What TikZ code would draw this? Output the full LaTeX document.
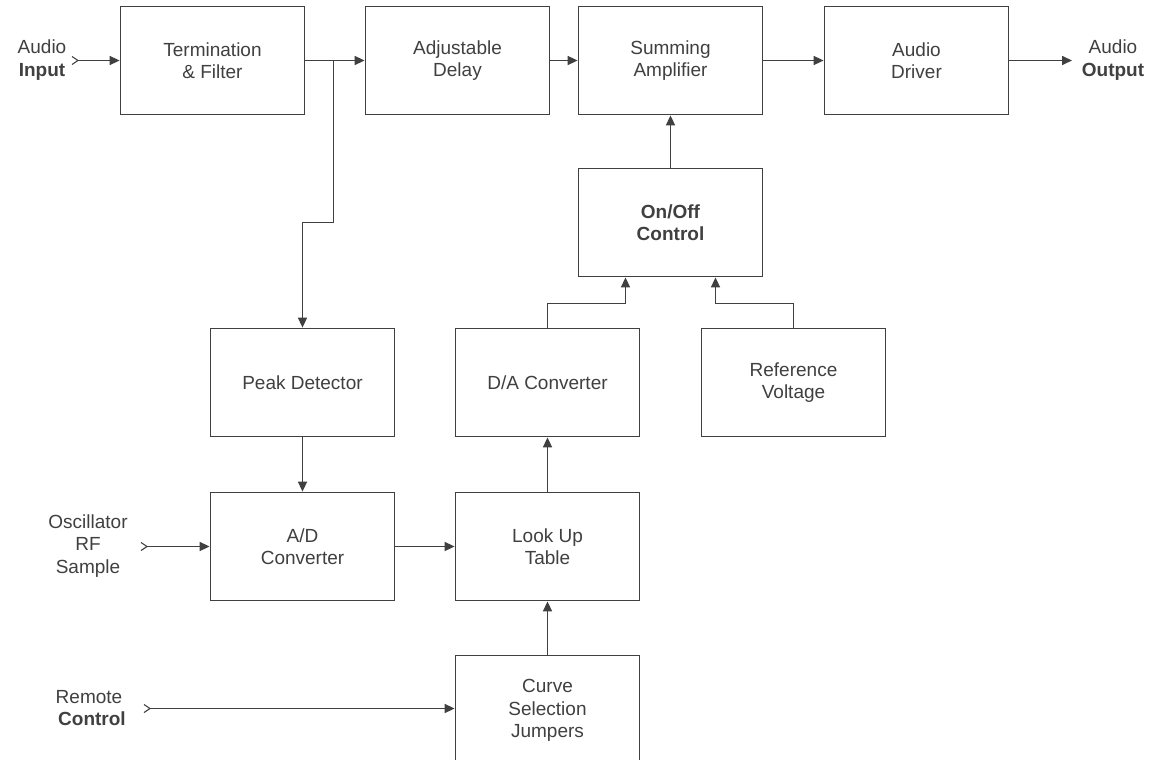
\documentclass[tikz,border=0pt]{standalone}
\usepackage{fontspec}
\setmainfont{Liberation Sans}
\usetikzlibrary{arrows.meta}
\definecolor{ln}{HTML}{404040}
\definecolor{tx}{HTML}{404040}
\tikzset{
  blk/.style={draw=ln, line width=1.8pt, minimum width=184pt, minimum height=108pt,
    inner sep=0pt, align=center, text=tx, font=\fontsize{19}{22.5}\selectfont},
  lbl/.style={align=center, text=tx, inner sep=0pt, font=\fontsize{19}{22.5}\selectfont},
  arr/.style={draw=ln, line width=1.6pt, -{Triangle[length=10pt,width=9pt]}},
  chev/.style={draw=ln, line width=1.1pt},
}
\begin{document}
\begin{tikzpicture}[x=1pt,y=-1pt]
\useasboundingbox (0,0) rectangle (1157,760);
\fill[white] (0,0) rectangle (1157,760);
% blocks
\node[blk] (tf) at (212.5,60.5) {Termination\\\& Filter};
\node[blk] (delay) at (457.5,60.5) {Adjustable\\Delay};
\node[blk] (sum) at (670.5,60.5) {Summing\\Amplifier};
\node[blk] (drv) at (916.5,60.5) {Audio\\Driver};
\node[blk] (onoff) at (670.5,222.5) {\textbf{On/Off}\\\textbf{Control}};
\node[blk] (peak) at (302.5,382.5) {Peak Detector};
\node[blk] (da) at (547.5,382.5) {D/A Converter};
\node[blk] (ref) at (793.5,382.5) {Reference\\Voltage};
\node[blk] (ad) at (302.5,546.5) {A/D\\Converter};
\node[blk] (lut) at (547.5,546.5) {Look Up\\Table};
\node[blk, minimum height=110pt] (csj) at (547.5,710.5) {Curve\\Selection\\Jumpers};
% labels
\node[lbl] (lin) at (42,60) {Audio\\\textbf{Input}};
\node[lbl] (lout) at (1113,60) {Audio\\\textbf{Output}};
\node[lbl] (losc) at (88,546) {Oscillator\\RF\\Sample};
\node[lbl] (lrc) at (89,708) {Remote\\\hspace*{6pt}\textbf{Control}};
% coordinates
\coordinate (inA) at (78,60.5);
\coordinate (inO) at (147,546.5);
\coordinate (inR) at (150,708.5);
\coordinate (outA) at (1072,60.5);
\coordinate (br) at (333.5,60.5);
% chevrons
\draw[chev] (inA) ++(-6,-4) -- (inA) -- ++(-6,4);
\draw[chev] (inO) ++(-6,-4) -- (inO) -- ++(-6,4);
\draw[chev] (inR) ++(-6,-4) -- (inR) -- ++(-6,4);
% connectors
\draw[arr] (inA) -- (tf.west);
\draw[arr] (tf.east) -- (delay.west);
\draw[arr] (br) -- ++(0,162) -| (peak.north);
\draw[arr] (delay.east) -- (sum.west);
\draw[arr] (sum.east) -- (drv.west);
\draw[arr] (drv.east) -- (outA);
\draw[arr] (onoff.north) -- (sum.south);
\draw[arr] (da.north) -- ++(0,-24) -| ([xshift=-45pt]onoff.south);
\draw[arr] (ref.north) -- ++(0,-24) -| ([xshift=45pt]onoff.south);
\draw[arr] (peak.south) -- (ad.north);
\draw[arr] (inO) -- (ad.west);
\draw[arr] (ad.east) -- (lut.west);
\draw[arr] (lut.north) -- (da.south);
\draw[arr] (csj.north) -- (lut.south);
\draw[arr] (inR) -- (inR -| csj.west);
\end{tikzpicture}
\end{document}
